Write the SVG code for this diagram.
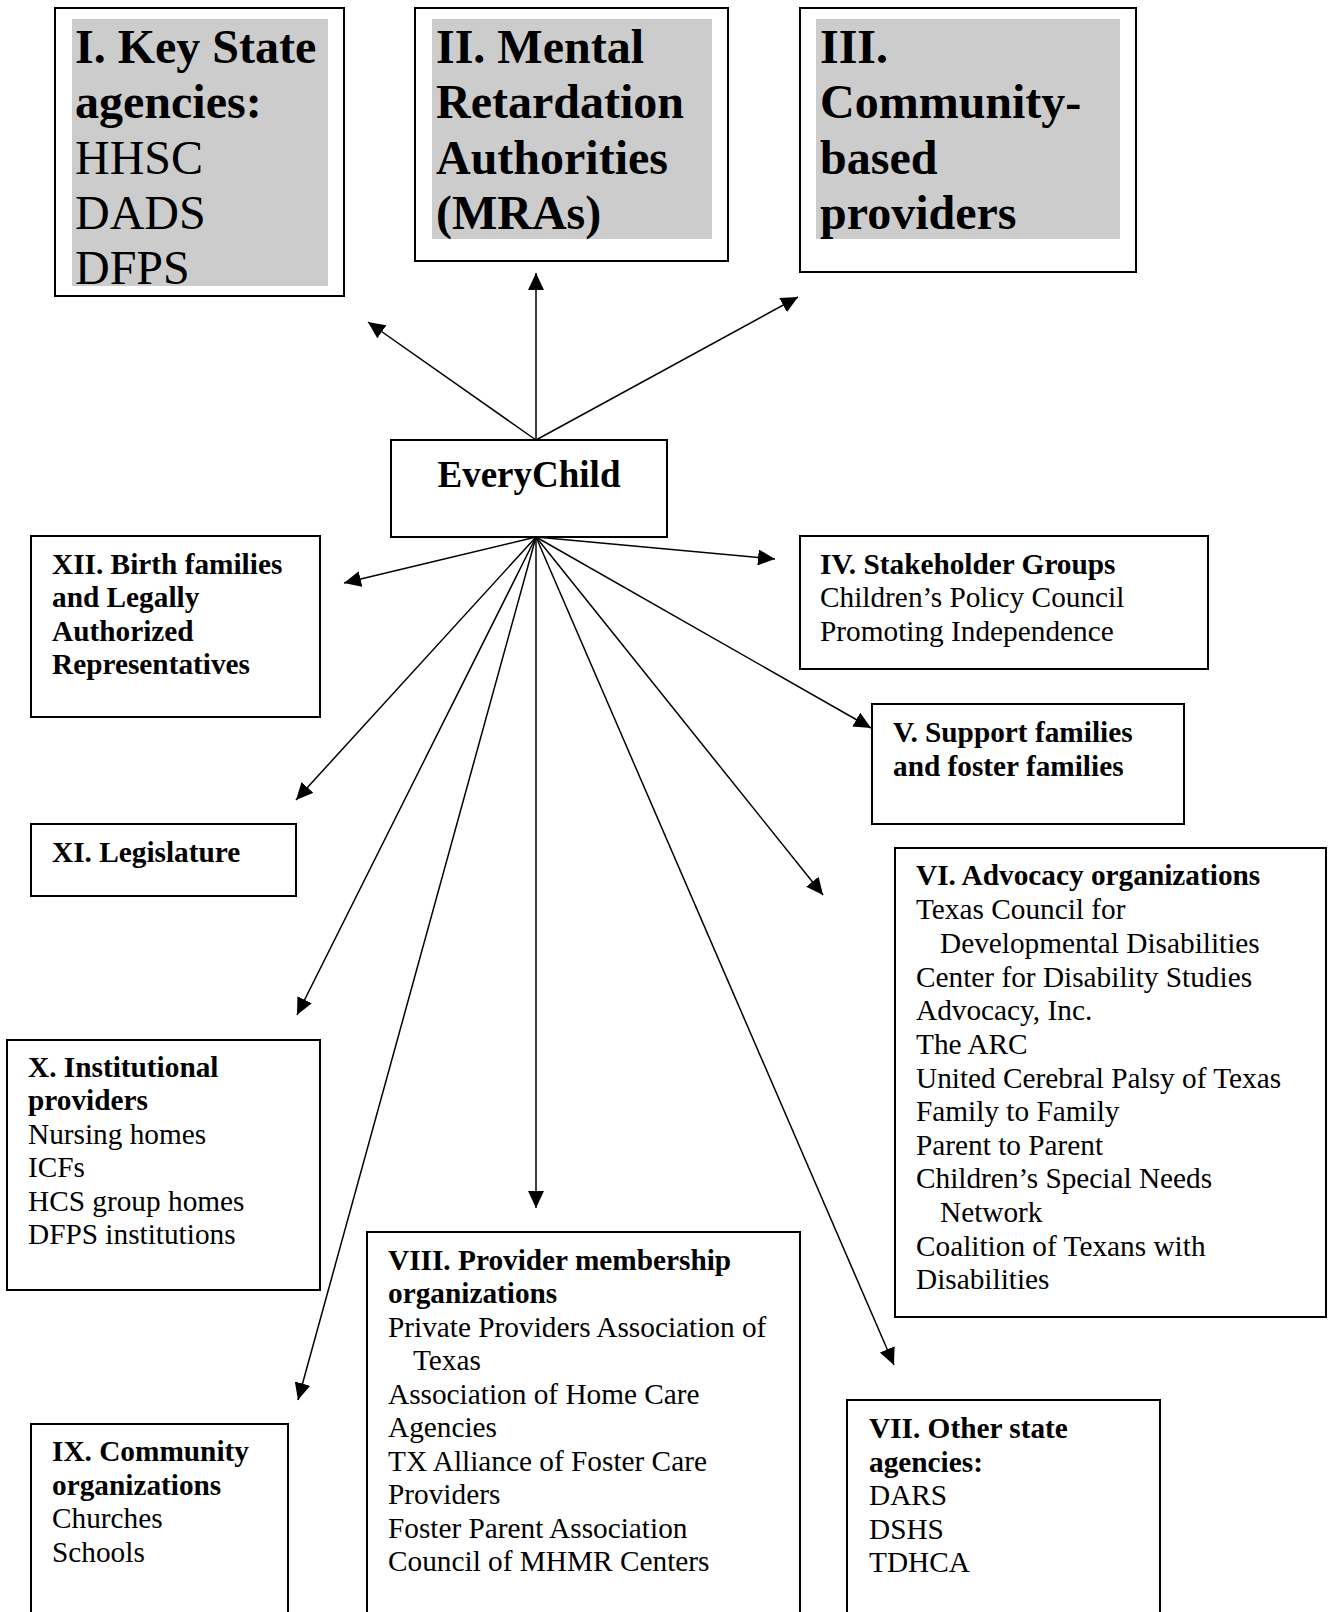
<svg xmlns="http://www.w3.org/2000/svg" width="1328" height="1612" viewBox="0 0 1328 1612">
<style>
.box{fill:#fff;stroke:#000;stroke-width:2}
.gray{fill:#cccccc;stroke:none}
.t{font-family:"Liberation Serif","Times New Roman",serif;font-size:29.3px;fill:#000}
.big{font-family:"Liberation Serif","Times New Roman",serif;font-size:48px;fill:#000}
.b{font-weight:bold}
.conn{stroke:#000;stroke-width:1.5;fill:none;marker-end:url(#ah)}
</style>
<defs>
<marker id="ah" markerUnits="userSpaceOnUse" markerWidth="17" markerHeight="16" refX="17" refY="8" orient="auto">
<path d="M0,0 L17,8 L0,16 Z" fill="#000"/>
</marker>
</defs>
<rect width="1328" height="1612" fill="#fff"/>
<g id="connectors">
<line class="conn" x1="536" y1="440" x2="368" y2="322"/>
<line class="conn" x1="536" y1="440" x2="536" y2="273"/>
<line class="conn" x1="536" y1="440" x2="798" y2="297"/>
<line class="conn" x1="536" y1="537" x2="344" y2="583"/>
<line class="conn" x1="536" y1="537" x2="775" y2="559"/>
<line class="conn" x1="536" y1="537" x2="871" y2="728"/>
<line class="conn" x1="536" y1="537" x2="823" y2="895"/>
<line class="conn" x1="536" y1="537" x2="894" y2="1365"/>
<line class="conn" x1="536" y1="537" x2="536" y2="1208"/>
<line class="conn" x1="536" y1="537" x2="298" y2="1400"/>
<line class="conn" x1="536" y1="537" x2="297" y2="1015"/>
<line class="conn" x1="536" y1="537" x2="296" y2="800"/>
</g>
<g id="node-I">
<rect class="box" x="55" y="8" width="289" height="288"/>
<rect class="gray" x="72" y="19" width="256" height="267"/>
<text class="big b" x="75" y="63">I. Key State</text>
<text class="big b" x="75" y="118">agencies:</text>
<text class="big" x="75" y="174">HHSC</text>
<text class="big" x="75" y="229">DADS</text>
<text class="big" x="75" y="284">DFPS</text>
</g>
<g id="node-II">
<rect class="box" x="415" y="8" width="313" height="253"/>
<rect class="gray" x="432" y="19" width="280" height="220"/>
<text class="big b" x="436" y="63">II. Mental</text>
<text class="big b" x="436" y="118">Retardation</text>
<text class="big b" x="436" y="174">Authorities</text>
<text class="big b" x="436" y="229">(MRAs)</text>
</g>
<g id="node-III">
<rect class="box" x="800" y="8" width="336" height="264"/>
<rect class="gray" x="816" y="19" width="304" height="220"/>
<text class="big b" x="820" y="63">III.</text>
<text class="big b" x="820" y="118">Community-</text>
<text class="big b" x="820" y="174">based</text>
<text class="big b" x="820" y="229">providers</text>
</g>
<g id="node-everychild">
<rect class="box" x="391" y="440" width="276" height="97"/>
<text class="t b" x="529" y="487" text-anchor="middle" style="font-size:37px">EveryChild</text>
</g>
<g id="node-XII">
<rect class="box" x="31" y="536" width="289" height="181"/>
<text class="t b" x="52" y="574">XII. Birth families</text>
<text class="t b" x="52" y="607">and Legally</text>
<text class="t b" x="52" y="641">Authorized</text>
<text class="t b" x="52" y="674">Representatives</text>
</g>
<g id="node-IV">
<rect class="box" x="800" y="536" width="408" height="133"/>
<text class="t b" x="820" y="574">IV. Stakeholder Groups</text>
<text class="t" x="820" y="607">Children’s Policy Council</text>
<text class="t" x="820" y="641">Promoting Independence</text>
</g>
<g id="node-V">
<rect class="box" x="872" y="704" width="312" height="120"/>
<text class="t b" x="893" y="742">V. Support families</text>
<text class="t b" x="893" y="776">and foster families</text>
</g>
<g id="node-XI">
<rect class="box" x="31" y="824" width="265" height="72"/>
<text class="t b" x="52" y="862">XI. Legislature</text>
</g>
<g id="node-VI">
<rect class="box" x="895" y="848" width="431" height="469"/>
<text class="t b" x="916" y="885">VI. Advocacy organizations</text>
<text class="t" x="916" y="919">Texas Council for</text>
<text class="t" x="940" y="953">Developmental Disabilities</text>
<text class="t" x="916" y="987">Center for Disability Studies</text>
<text class="t" x="916" y="1020">Advocacy, Inc.</text>
<text class="t" x="916" y="1054">The ARC</text>
<text class="t" x="916" y="1088">United Cerebral Palsy of Texas</text>
<text class="t" x="916" y="1121">Family to Family</text>
<text class="t" x="916" y="1155">Parent to Parent</text>
<text class="t" x="916" y="1188">Children’s Special Needs</text>
<text class="t" x="940" y="1222">Network</text>
<text class="t" x="916" y="1256">Coalition of Texans with</text>
<text class="t" x="916" y="1289">Disabilities</text>
</g>
<g id="node-X">
<rect class="box" x="7" y="1040" width="313" height="250"/>
<text class="t b" x="28" y="1077">X. Institutional</text>
<text class="t b" x="28" y="1110">providers</text>
<text class="t" x="28" y="1144">Nursing homes</text>
<text class="t" x="28" y="1177">ICFs</text>
<text class="t" x="28" y="1211">HCS group homes</text>
<text class="t" x="28" y="1244">DFPS institutions</text>
</g>
<g id="node-VIII">
<rect class="box" x="367" y="1232" width="433" height="400"/>
<text class="t b" x="388" y="1270">VIII. Provider membership</text>
<text class="t b" x="388" y="1303">organizations</text>
<text class="t" x="388" y="1337">Private Providers Association of</text>
<text class="t" x="413" y="1370">Texas</text>
<text class="t" x="388" y="1404">Association of Home Care</text>
<text class="t" x="388" y="1437">Agencies</text>
<text class="t" x="388" y="1471">TX Alliance of Foster Care</text>
<text class="t" x="388" y="1504">Providers</text>
<text class="t" x="388" y="1538">Foster Parent Association</text>
<text class="t" x="388" y="1571">Council of MHMR Centers</text>
</g>
<g id="node-IX">
<rect class="box" x="31" y="1424" width="257" height="210"/>
<text class="t b" x="52" y="1461">IX. Community</text>
<text class="t b" x="52" y="1495">organizations</text>
<text class="t" x="52" y="1528">Churches</text>
<text class="t" x="52" y="1562">Schools</text>
</g>
<g id="node-VII">
<rect class="box" x="847" y="1400" width="313" height="230"/>
<text class="t b" x="869" y="1438">VII. Other state</text>
<text class="t b" x="869" y="1472">agencies:</text>
<text class="t" x="869" y="1505">DARS</text>
<text class="t" x="869" y="1539">DSHS</text>
<text class="t" x="869" y="1572">TDHCA</text>
</g>
</svg>
